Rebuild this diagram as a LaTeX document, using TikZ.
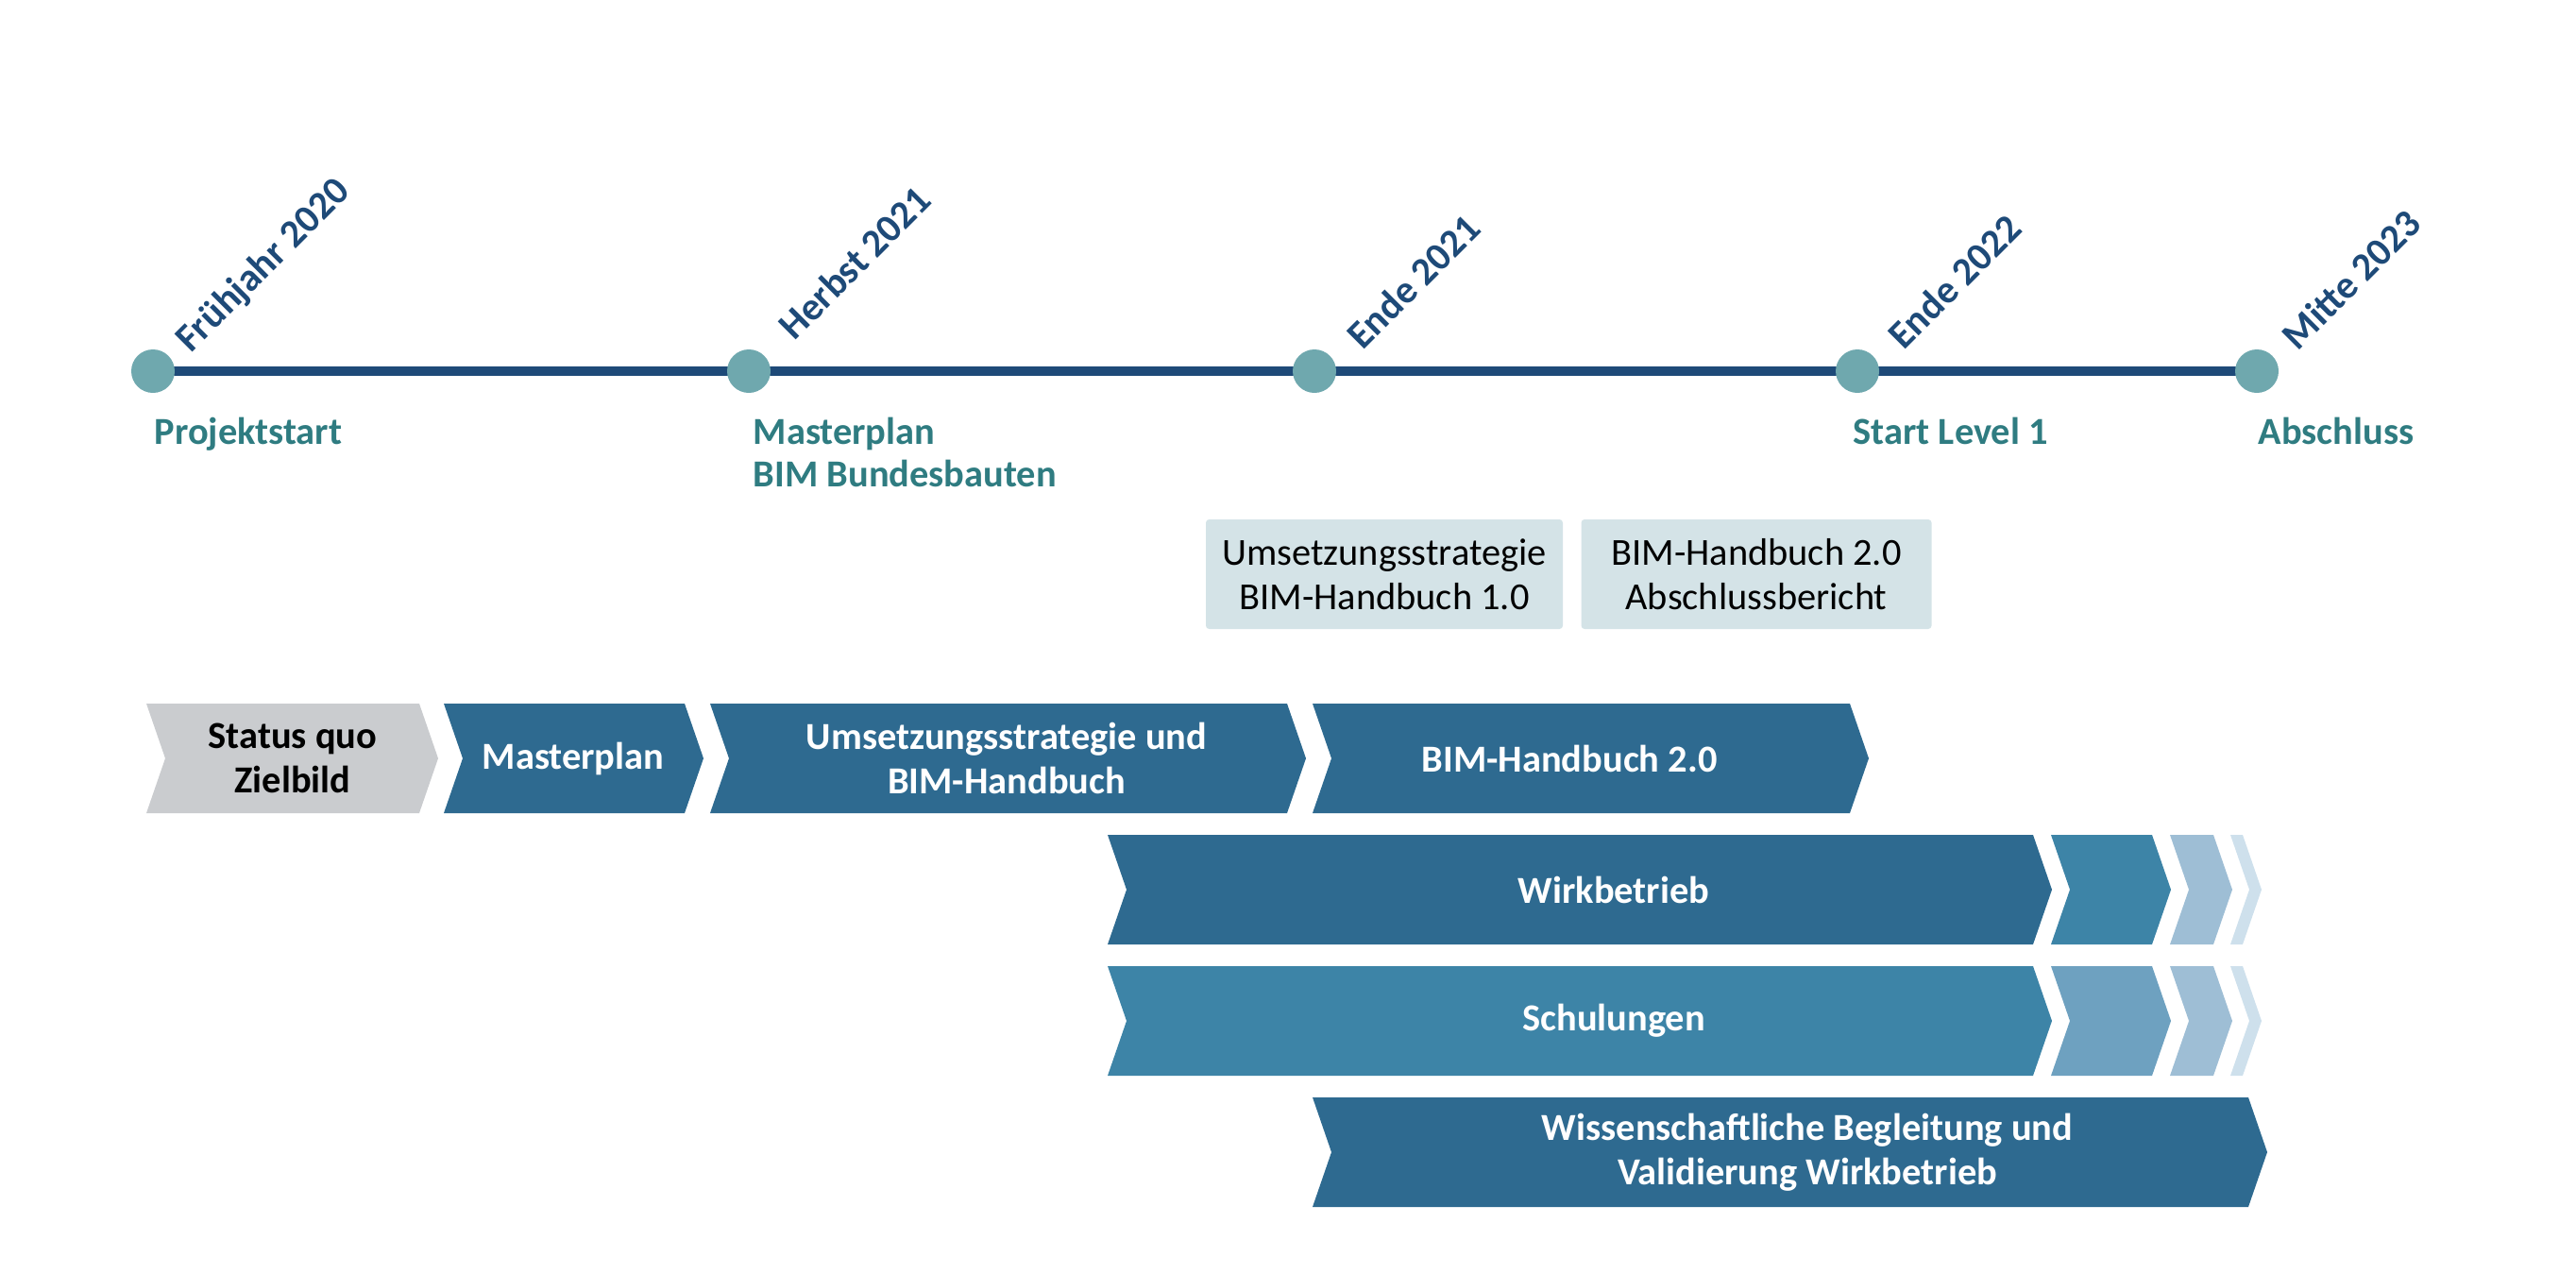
\documentclass[tikz,border=0pt]{standalone}
\usepackage{fontspec}
\setmainfont{Carlito}
\usetikzlibrary{calc}

\definecolor{navy}{HTML}{1E4A78}
\definecolor{dotteal}{HTML}{6FA8AE}
\definecolor{textteal}{HTML}{2F7C81}
\definecolor{boxfill}{HTML}{D4E3E7}
\definecolor{chevgrey}{HTML}{CACCCF}
\definecolor{chevdark}{HTML}{2E6A90}
\definecolor{chevmid}{HTML}{3D84A7}
\definecolor{chevsoft}{HTML}{6EA1C0}
\definecolor{chevlight}{HTML}{9EBED5}
\definecolor{chevpale}{HTML}{CEE0EC}

% chevron: left x, right x, centre y, colour
\newcommand{\chevron}[4]{%
  \fill[#4] ({#1},{#3+\h}) -- ({#2},{#3+\h}) -- ({#2+\d},{#3}) -- ({#2},{#3-\h})
    -- ({#1},{#3-\h}) -- ({#1+\d},{#3}) -- cycle;}

\begin{document}
\begin{tikzpicture}[
  txt/.style={font=\fontsize{11.5}{13.3}\selectfont},
  date/.style={font=\bfseries\fontsize{11.8}{13.3}\selectfont, text=navy,
    rotate=45, anchor=base west, inner sep=0pt},
  mile/.style={font=\bfseries\fontsize{11.5}{12.8}\selectfont, text=textteal,
    anchor=base west, align=left, inner sep=0pt},
  dot/.style={circle, fill=dotteal, minimum size=0.46cm, inner sep=0pt},
  deliv/.style={txt, fill=boxfill, rounded corners=1pt, minimum height=1.16cm,
    align=center, inner sep=0pt},
  phase/.style={font=\bfseries\fontsize{11.5}{13.3}\selectfont, text=white, align=center}
]
\def\h{0.58}
\def\d{0.2}
\useasboundingbox (0,0) rectangle (27.28,-13.48);

% Timeline
\coordinate (t1) at (1.62,-3.93);
\coordinate (t2) at (7.93,-3.93);
\coordinate (t3) at (13.92,-3.93);
\coordinate (t4) at (19.67,-3.93);
\coordinate (t5) at (23.90,-3.93);
\draw[navy, line width=2.8pt] (t1) -- (t5);
\node[dot] (p1) at (t1) {};
\node[dot] (p2) at (t2) {};
\node[dot] (p3) at (t3) {};
\node[dot] (p4) at (t4) {};
\node[dot] (p5) at (t5) {};

% Dates
\node[date] (d1) at ($(t1)+(0.40,0.18)$) {Frühjahr 2020};
\node[date] (d2) at ($(t2)+(0.48,0.31)$) {Herbst 2021};
\node[date] (d3) at ($(t3)+(0.51,0.21)$) {Ende 2021};
\node[date] (d4) at ($(t4)+(0.49,0.21)$) {Ende 2022};
\node[date] (d5) at ($(t5)+(0.43,0.20)$) {Mitte 2023};

% Milestones
\node[mile] (m1) at (1.63,-4.70) {Projektstart};
\node[mile] (m2) at (7.97,-5.15) {Masterplan\\BIM Bundesbauten};
\node[mile] (m4) at (19.62,-4.70) {Start Level 1};
\node[mile] (m5) at (23.91,-4.70) {Abschluss};

% Deliverables
\node[deliv, minimum width=3.78cm] (b1) at (14.66,-6.08) {Umsetzungsstrategie\\BIM-Handbuch 1.0};
\node[deliv, minimum width=3.71cm] (b2) at (18.60,-6.08) {BIM-Handbuch 2.0\\Abschlussbericht};

% Phases, row 1
\chevron{1.55}{4.44}{-8.03}{chevgrey}
\chevron{4.70}{7.25}{-8.03}{chevdark}
\chevron{7.52}{13.63}{-8.03}{chevdark}
\chevron{13.90}{19.59}{-8.03}{chevdark}
\node[phase, text=black] (sq) at (3.10,-8.03) {Status quo\\Zielbild};
\node[phase] (mp) at (6.07,-8.03) {Masterplan};
\node[phase] (us) at (10.66,-8.03) {Umsetzungsstrategie und\\BIM-Handbuch};
\node[phase] (hb) at (16.62,-8.03) {BIM-Handbuch 2.0};

% Wirkbetrieb
\chevron{11.73}{21.53}{-9.42}{chevdark}
\chevron{21.72}{22.79}{-9.42}{chevmid}
\chevron{22.98}{23.44}{-9.42}{chevlight}
\chevron{23.62}{23.75}{-9.42}{chevpale}
\node[phase] (wb) at (17.09,-9.42) {Wirkbetrieb};

% Schulungen
\chevron{11.73}{21.53}{-10.81}{chevmid}
\chevron{21.72}{22.79}{-10.81}{chevsoft}
\chevron{22.98}{23.44}{-10.81}{chevlight}
\chevron{23.62}{23.75}{-10.81}{chevpale}
\node[phase] (sc) at (17.09,-10.81) {Schulungen};

% Begleitung
\chevron{13.90}{23.81}{-12.20}{chevdark}
\node[phase] (wi) at (19.14,-12.20) {Wissenschaftliche Begleitung und\\Validierung Wirkbetrieb};
\end{tikzpicture}
\end{document}
